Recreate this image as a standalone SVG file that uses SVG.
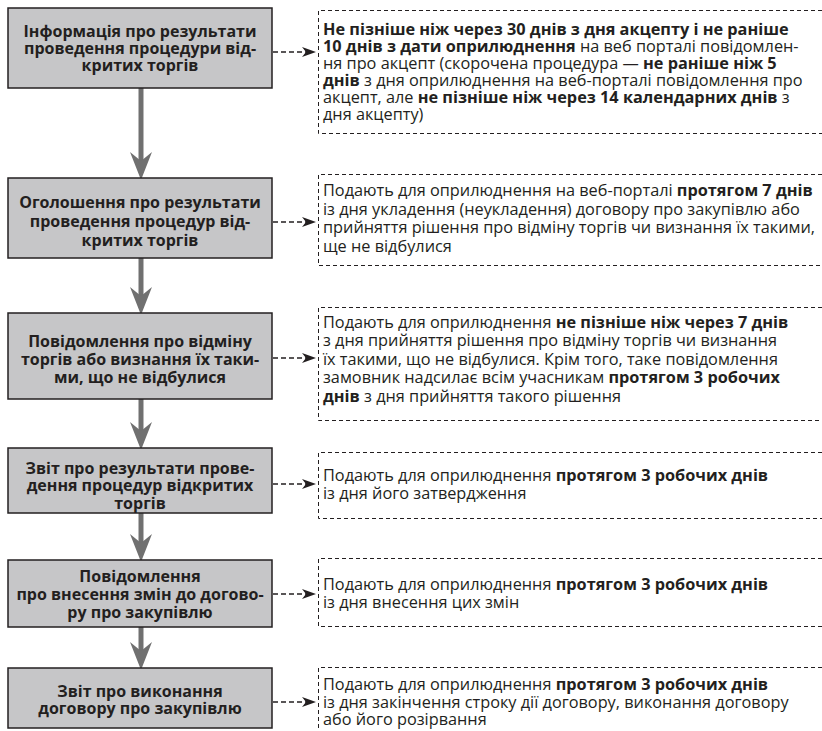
<svg xmlns="http://www.w3.org/2000/svg" width="822" height="731" viewBox="0 0 822 731">
<style>
.box{fill:#c6c6c8;stroke:#231f20;stroke-width:1.5}
.bt{font-family:"Open Sans","Noto Sans",sans-serif;font-size:16px;font-weight:bold;fill:#231f20;text-anchor:middle}
.note{fill:none;stroke:#231f20;stroke-width:1;stroke-dasharray:4 3}
.nt{font-family:"Open Sans","Noto Sans",sans-serif;font-size:16.3px;fill:#231f20}
.b{font-weight:bold}
.flow{stroke:#707070;stroke-width:5;fill:none}
.link{stroke:#231f20;stroke-width:1.6;stroke-dasharray:5 3;fill:none}
</style>
<defs>
<marker id="gh" markerUnits="userSpaceOnUse" viewBox="0 0 28 22" refX="13" refY="11" markerWidth="28" markerHeight="22" orient="auto">
<path d="M0,0 L28,11 L0,22 L9,11 Z" fill="#707070"/>
</marker>
<marker id="bh" markerUnits="userSpaceOnUse" viewBox="0 0 14 10" refX="5" refY="5" markerWidth="14" markerHeight="10" orient="auto">
<path d="M0,0 L14,5 L0,10 L4,5 Z" fill="#231f20"/>
</marker>
</defs>

<g id="connectors">
<path class="flow" d="M141,88 V165" marker-end="url(#gh)"/>
<path class="flow" d="M141,258 V300" marker-end="url(#gh)"/>
<path class="flow" d="M141,399 V435" marker-end="url(#gh)"/>
<path class="flow" d="M141,513 V547" marker-end="url(#gh)"/>
<path class="flow" d="M141,627 V655" marker-end="url(#gh)"/>
<path class="link" d="M273,52 H307" marker-end="url(#bh)"/>
<path class="link" d="M273,222 H307" marker-end="url(#bh)"/>
<path class="link" d="M273,358 H307" marker-end="url(#bh)"/>
<path class="link" d="M273,484 H307" marker-end="url(#bh)"/>
<path class="link" d="M273,594 H307" marker-end="url(#bh)"/>
<path class="link" d="M273,702 H307" marker-end="url(#bh)"/>
</g>

<g id="n1">
<rect class="box" x="8" y="8" width="264" height="80"/>
<text class="bt"><tspan x="140" y="37">Інформація про результати</tspan><tspan x="140" y="54">проведення процедури від-</tspan><tspan x="140" y="71">критих торгів</tspan></text>
</g>
<g id="n2">
<rect class="box" x="8" y="178" width="264" height="80"/>
<text class="bt"><tspan x="140" y="208">Оголошення про результати</tspan><tspan x="140" y="227">проведення процедур від-</tspan><tspan x="140" y="246">критих торгів</tspan></text>
</g>
<g id="n3">
<rect class="box" x="8" y="313" width="264" height="86"/>
<text class="bt"><tspan x="140" y="347">Повідомлення про відміну</tspan><tspan x="140" y="365">торгів або визнання їх таки-</tspan><tspan x="140" y="383">ми, що не відбулися</tspan></text>
</g>
<g id="n4">
<rect class="box" x="8" y="448" width="264" height="65"/>
<text class="bt"><tspan x="140" y="474">Звіт про результати прове-</tspan><tspan x="140" y="491">дення процедур відкритих</tspan><tspan x="140" y="509">торгів</tspan></text>
</g>
<g id="n5">
<rect class="box" x="8" y="560" width="264" height="67"/>
<text class="bt"><tspan x="140" y="582">Повідомлення</tspan><tspan x="140" y="600">про внесення змін до догово-</tspan><tspan x="140" y="618">ру про закупівлю</tspan></text>
</g>
<g id="n6">
<rect class="box" x="8" y="668" width="264" height="60"/>
<text class="bt"><tspan x="140" y="697">Звіт про виконання</tspan><tspan x="140" y="714">договору про закупівлю</tspan></text>
</g>

<g id="d1">
<path class="note" d="M822,10.5 H318.5 V133.5 H822"/>
<text class="nt">
<tspan x="323" y="35" class="b">Не пізніше ніж через 30 днів з дня акцепту і не раніше</tspan>
<tspan x="323" y="52"><tspan class="b">10 днів з дати оприлюднення</tspan> на веб порталі повідомлен-</tspan>
<tspan x="323" y="69">ня про акцепт (скорочена процедура — <tspan class="b">не раніше ніж 5</tspan></tspan>
<tspan x="323" y="86"><tspan class="b">днів</tspan> з дня оприлюднення на веб-порталі повідомлення про</tspan>
<tspan x="323" y="103">акцепт, але <tspan class="b">не пізніше ніж через 14 календарних днів</tspan> з</tspan>
<tspan x="323" y="120">дня акцепту)</tspan>
</text>
</g>
<g id="d2">
<path class="note" d="M822,174.5 H318.5 V265.5 H822"/>
<text class="nt">
<tspan x="323" y="196">Подають для оприлюднення на веб-порталі <tspan class="b">протягом 7 днів</tspan></tspan>
<tspan x="323" y="215">із дня укладення (неукладення) договору про закупівлю або</tspan>
<tspan x="323" y="233">прийняття рішення про відміну торгів чи визнання їх такими,</tspan>
<tspan x="323" y="252">ще не відбулися</tspan>
</text>
</g>
<g id="d3">
<path class="note" d="M822,307.5 H318.5 V420.5 H822"/>
<text class="nt">
<tspan x="323" y="328">Подають для оприлюднення <tspan class="b">не пізніше ніж через 7 днів</tspan></tspan>
<tspan x="323" y="346">з дня прийняття рішення про відміну торгів чи визнання</tspan>
<tspan x="323" y="365">їх такими, що не відбулися. Крім того, таке повідомлення</tspan>
<tspan x="323" y="383">замовник надсилає всім учасникам <tspan class="b">протягом 3 робочих</tspan></tspan>
<tspan x="323" y="402"><tspan class="b">днів</tspan> з дня прийняття такого рішення</tspan>
</text>
</g>
<g id="d4">
<path class="note" d="M822,452.5 H318.5 V518.5 H822"/>
<text class="nt">
<tspan x="323" y="481">Подають для оприлюднення <tspan class="b">протягом 3 робочих днів</tspan></tspan>
<tspan x="323" y="499">із дня його затвердження</tspan>
</text>
</g>
<g id="d5">
<path class="note" d="M822,558.5 H318.5 V626.5 H822"/>
<text class="nt">
<tspan x="323" y="590">Подають для оприлюднення <tspan class="b">протягом 3 робочих днів</tspan></tspan>
<tspan x="323" y="608">із дня внесення цих змін</tspan>
</text>
</g>
<g id="d6">
<path class="note" d="M822,667.5 H318.5 V740"/>
<text class="nt">
<tspan x="323" y="690">Подають для оприлюднення <tspan class="b">протягом 3 робочих днів</tspan></tspan>
<tspan x="323" y="708">із дня закінчення строку дії договору, виконання договору</tspan>
<tspan x="323" y="725">або його розірвання</tspan>
</text>
</g>
</svg>
